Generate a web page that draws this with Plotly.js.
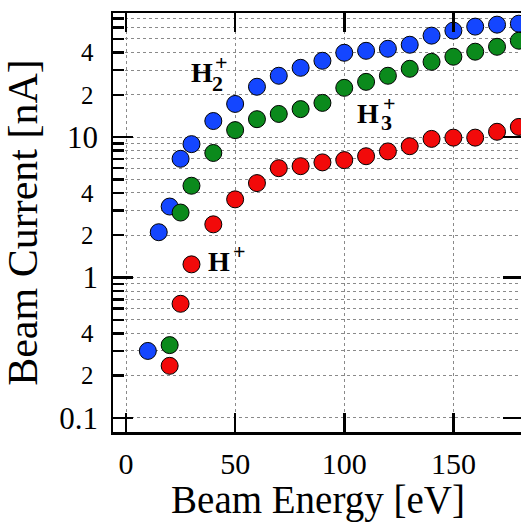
<!DOCTYPE html>
<html>
<head>
<meta charset="utf-8">
<script src="https://cdn.plot.ly/plotly-3.0.1.min.js"></script>
<style>
html,body{margin:0;padding:0;overflow:hidden;background:#fff;}
#chart{width:530px;height:522px;}
</style>
</head>
<body>
<div id="chart"></div>
<script>
// Beam energy [eV]
var energyH2 = [10, 15, 20, 25, 30, 40, 50, 60, 70, 80, 90, 100, 110, 120, 130, 140, 150, 160, 170, 180];
var currentH2 = [0.30, 2.1, 3.2, 7.0, 8.9, 13.0, 17.2, 22.8, 27.3, 31.1, 34.9, 39.8, 41.1, 42.5, 45.4, 52.7, 57.2, 61.1, 63.1, 64.1];

var energyH3 = [20, 25, 30, 40, 50, 60, 70, 80, 90, 100, 110, 120, 130, 140, 150, 160, 170, 180];
var currentH3 = [0.33, 2.9, 4.5, 7.7, 11.2, 13.4, 14.6, 15.8, 17.5, 22.4, 24.7, 27.3, 30.6, 34.3, 37.3, 40.5, 43.9, 48.5];

var energyH1 = [20, 25, 30, 40, 50, 60, 70, 80, 90, 100, 110, 120, 130, 140, 150, 160, 170, 180];
var currentH1 = [0.235, 0.65, 1.24, 2.39, 3.6, 4.7, 6.0, 6.2, 6.6, 6.85, 7.3, 7.9, 8.6, 9.7, 9.9, 9.9, 10.9, 11.8];

var xTicks = [0, 50, 100, 150];
var majorY = [0.1, 1, 10];
var majorYText = ['0.1', '1', '10'];
var minorY = [0.2,0.3,0.4,0.5,0.6,0.7,0.8,0.9, 2,3,4,5,6,7,8,9, 20,30,40,50,60,70];
var minorYText = ['2','','4','','','','','', '2','','4','','','','','', '2','','4','','',''];

var serif = 'Liberation Serif, Times New Roman, serif';
var gridCol = '#8a8a8a';

function mk(x, y, color, name, yax) {
  return {
    x: x, y: y, type: 'scatter', mode: 'markers', name: name, yaxis: yax,
    marker: {size: 17, color: color, line: {color: '#000', width: 1}},
    hoverinfo: 'x+y'
  };
}

var traces = [
  mk(energyH2, currentH2, '#1446ff', 'H2+', 'y'),
  mk(energyH3, currentH3, '#0b8a1c', 'H3+', 'y'),
  mk(energyH1, currentH1, '#f20a0a', 'H+', 'y2')
];

var yRange = [-1.10, 1.883];

var lab = {family: serif, size: 28, color: '#000', weight: 'bold'};
var sm = {family: serif, size: 22, color: '#000', weight: 'bold'};
function ann(x, y, t, f) {
  return {x: x, y: Math.log10(y), xref: 'x', yref: 'y', text: t, showarrow: false,
          font: f, xanchor: 'center', yanchor: 'middle'};
}

var layout = {
  width: 530, height: 522,
  margin: {l: 113, r: 7, t: 13, b: 90},
  paper_bgcolor: '#fff', plot_bgcolor: '#fff',
  showlegend: false,
  xaxis: {
    range: [-5.96, 181.9],
    tickmode: 'array', tickvals: xTicks, ticktext: xTicks.map(String),
    ticks: 'inside', ticklen: 19, tickwidth: 2.5, tickcolor: '#000',
    showline: true, linewidth: 2.5, linecolor: '#000', mirror: 'ticks',
    showgrid: true, gridcolor: gridCol, griddash: 'dot', gridwidth: 1,
    zeroline: false,
    tickfont: {family: serif, size: 30, color: '#000'},
    ticklabelstandoff: 3,
    title: {text: 'Beam Energy [eV]', font: {family: serif, size: 39, color: '#000'}, standoff: 3}
  },
  yaxis: {
    type: 'log', range: yRange,
    tickmode: 'array', tickvals: minorY, ticktext: minorYText,
    ticks: 'inside', ticklen: 11, tickwidth: 2.5, tickcolor: '#000',
    showline: true, linewidth: 2.5, linecolor: '#000', mirror: true,
    showgrid: true, gridcolor: gridCol, griddash: 'dot', gridwidth: 1,
    zeroline: false,
    tickfont: {family: serif, size: 25, color: '#000'},
    ticklabelstandoff: 12,
    title: {text: 'Beam Current [nA]', font: {family: serif, size: 42, color: '#000'}, standoff: 32}
  },
  yaxis2: {
    type: 'log', range: yRange, overlaying: 'y', side: 'left', anchor: 'x',
    tickmode: 'array', tickvals: majorY, ticktext: majorYText,
    ticks: 'inside', ticklen: 20, tickwidth: 2.5, tickcolor: '#000',
    showline: false, mirror: 'ticks',
    showgrid: true, gridcolor: gridCol, griddash: 'dot', gridwidth: 1,
    zeroline: false,
    tickfont: {family: serif, size: 31, color: '#000'},
    ticklabelstandoff: 14
  },
  annotations: [
    ann(34.6, 29.0, 'H', lab), ann(41.9, 24.2, '2', sm), ann(43.8, 34.2, '+', sm),
    ann(110.7, 14.6, 'H', lab), ann(119.4, 12.6, '3', sm), ann(120.8, 17.3, '+', sm),
    ann(42.4, 1.31, 'H', lab), ann(52.2, 1.53, '+', sm)
  ]
};

Plotly.newPlot('chart', traces, layout, {displayModeBar: false, staticPlot: true});
</script>
</body>
</html>
